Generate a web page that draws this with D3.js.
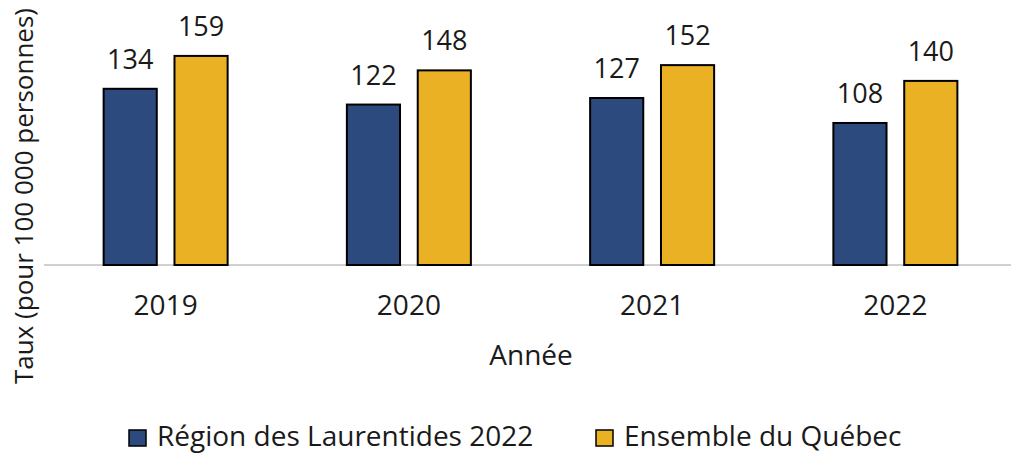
<!DOCTYPE html>
<html>
<head>
<meta charset="utf-8">
<script src="https://cdn.jsdelivr.net/npm/d3@7"></script>
<style>
  body { margin: 0; background: #fff; }
  text { font-family: "Open Sans", sans-serif; fill: #1a1a1a; }
</style>
</head>
<body>
<svg id="chart" width="1011" height="453"></svg>
<script>
const years = ['2019', '2020', '2021', '2022'];
const laurentides = [134, 122, 127, 108];
const quebec = [159, 148, 152, 140];
const seriesNames = ['Région des Laurentides 2022', 'Ensemble du Québec'];
const colors = ['#2c4a7e', '#ebb124'];

const svg = d3.select('#chart');

let x = d3.scaleBand()
    .domain(years)
    .range([44, 1017]);

let inner = d3.scaleBand()
    .domain([0, 1])
    .range([0, 124])
    .paddingInner(0.25);

let y = d3.scaleLinear()
    .domain([0, 200])
    .range([265, 2]);

// baseline
svg.append('line')
    .attr('x1', 44).attr('x2', 1011)
    .attr('y1', y(0)).attr('y2', y(0))
    .attr('stroke', '#d0d0d0')
    .attr('stroke-width', 2);

let rows = years.map((yr, i) => [
    {year: yr, s: 0, v: laurentides[i]},
    {year: yr, s: 1, v: quebec[i]}
]).flat();

let off = (x.bandwidth() - 124) / 2;

svg.append('g').selectAll('rect')
    .data(rows)
    .join('rect')
    .attr('x', d => x(d.year) + off + inner(d.s))
    .attr('y', d => y(d.v))
    .attr('width', inner.bandwidth())
    .attr('height', d => y(0) - y(d.v))
    .attr('fill', d => colors[d.s])
    .attr('stroke', '#000')
    .attr('stroke-width', 2);

svg.append('g').selectAll('text')
    .data(rows)
    .join('text')
    .attr('x', d => x(d.year) + off + inner(d.s) + inner.bandwidth() / 2)
    .attr('y', d => y(d.v) - 20)
    .attr('text-anchor', 'middle')
    .style('font-size', '27px')
    .text(d => d.v);

// x axis labels
let xAxis = svg.append('g')
    .attr('transform', `translate(0, ${y(0)})`)
    .call(d3.axisBottom(x).tickSize(0).tickPadding(0));
xAxis.select('.domain').remove();
xAxis.selectAll('text')
    .style('font-size', '28px')
    .attr('font-family', null)
    .attr('y', 50)
    .attr('dy', null);

svg.append('text')
    .attr('x', 531)
    .attr('y', 365)
    .attr('text-anchor', 'middle')
    .style('font-size', '28px')
    .text('Année');

svg.append('text')
    .attr('transform', 'translate(33, 196) rotate(-90)')
    .attr('text-anchor', 'middle')
    .style('font-size', '26px')
    .text('Taux (pour 100 000 personnes)');

// legend
let legendX = [129, 596];
let legend = svg.append('g').selectAll('g')
    .data(seriesNames)
    .join('g')
    .attr('transform', (d, i) => `translate(${legendX[i]}, 430)`);
legend.append('rect')
    .attr('width', 17).attr('height', 16)
    .attr('fill', (d, i) => colors[i])
    .attr('stroke', '#000')
    .attr('stroke-width', 1.5);
legend.append('text')
    .attr('x', 28)
    .attr('y', 16)
    .style('font-size', '28px')
    .text(d => d);
</script>
</body>
</html>
